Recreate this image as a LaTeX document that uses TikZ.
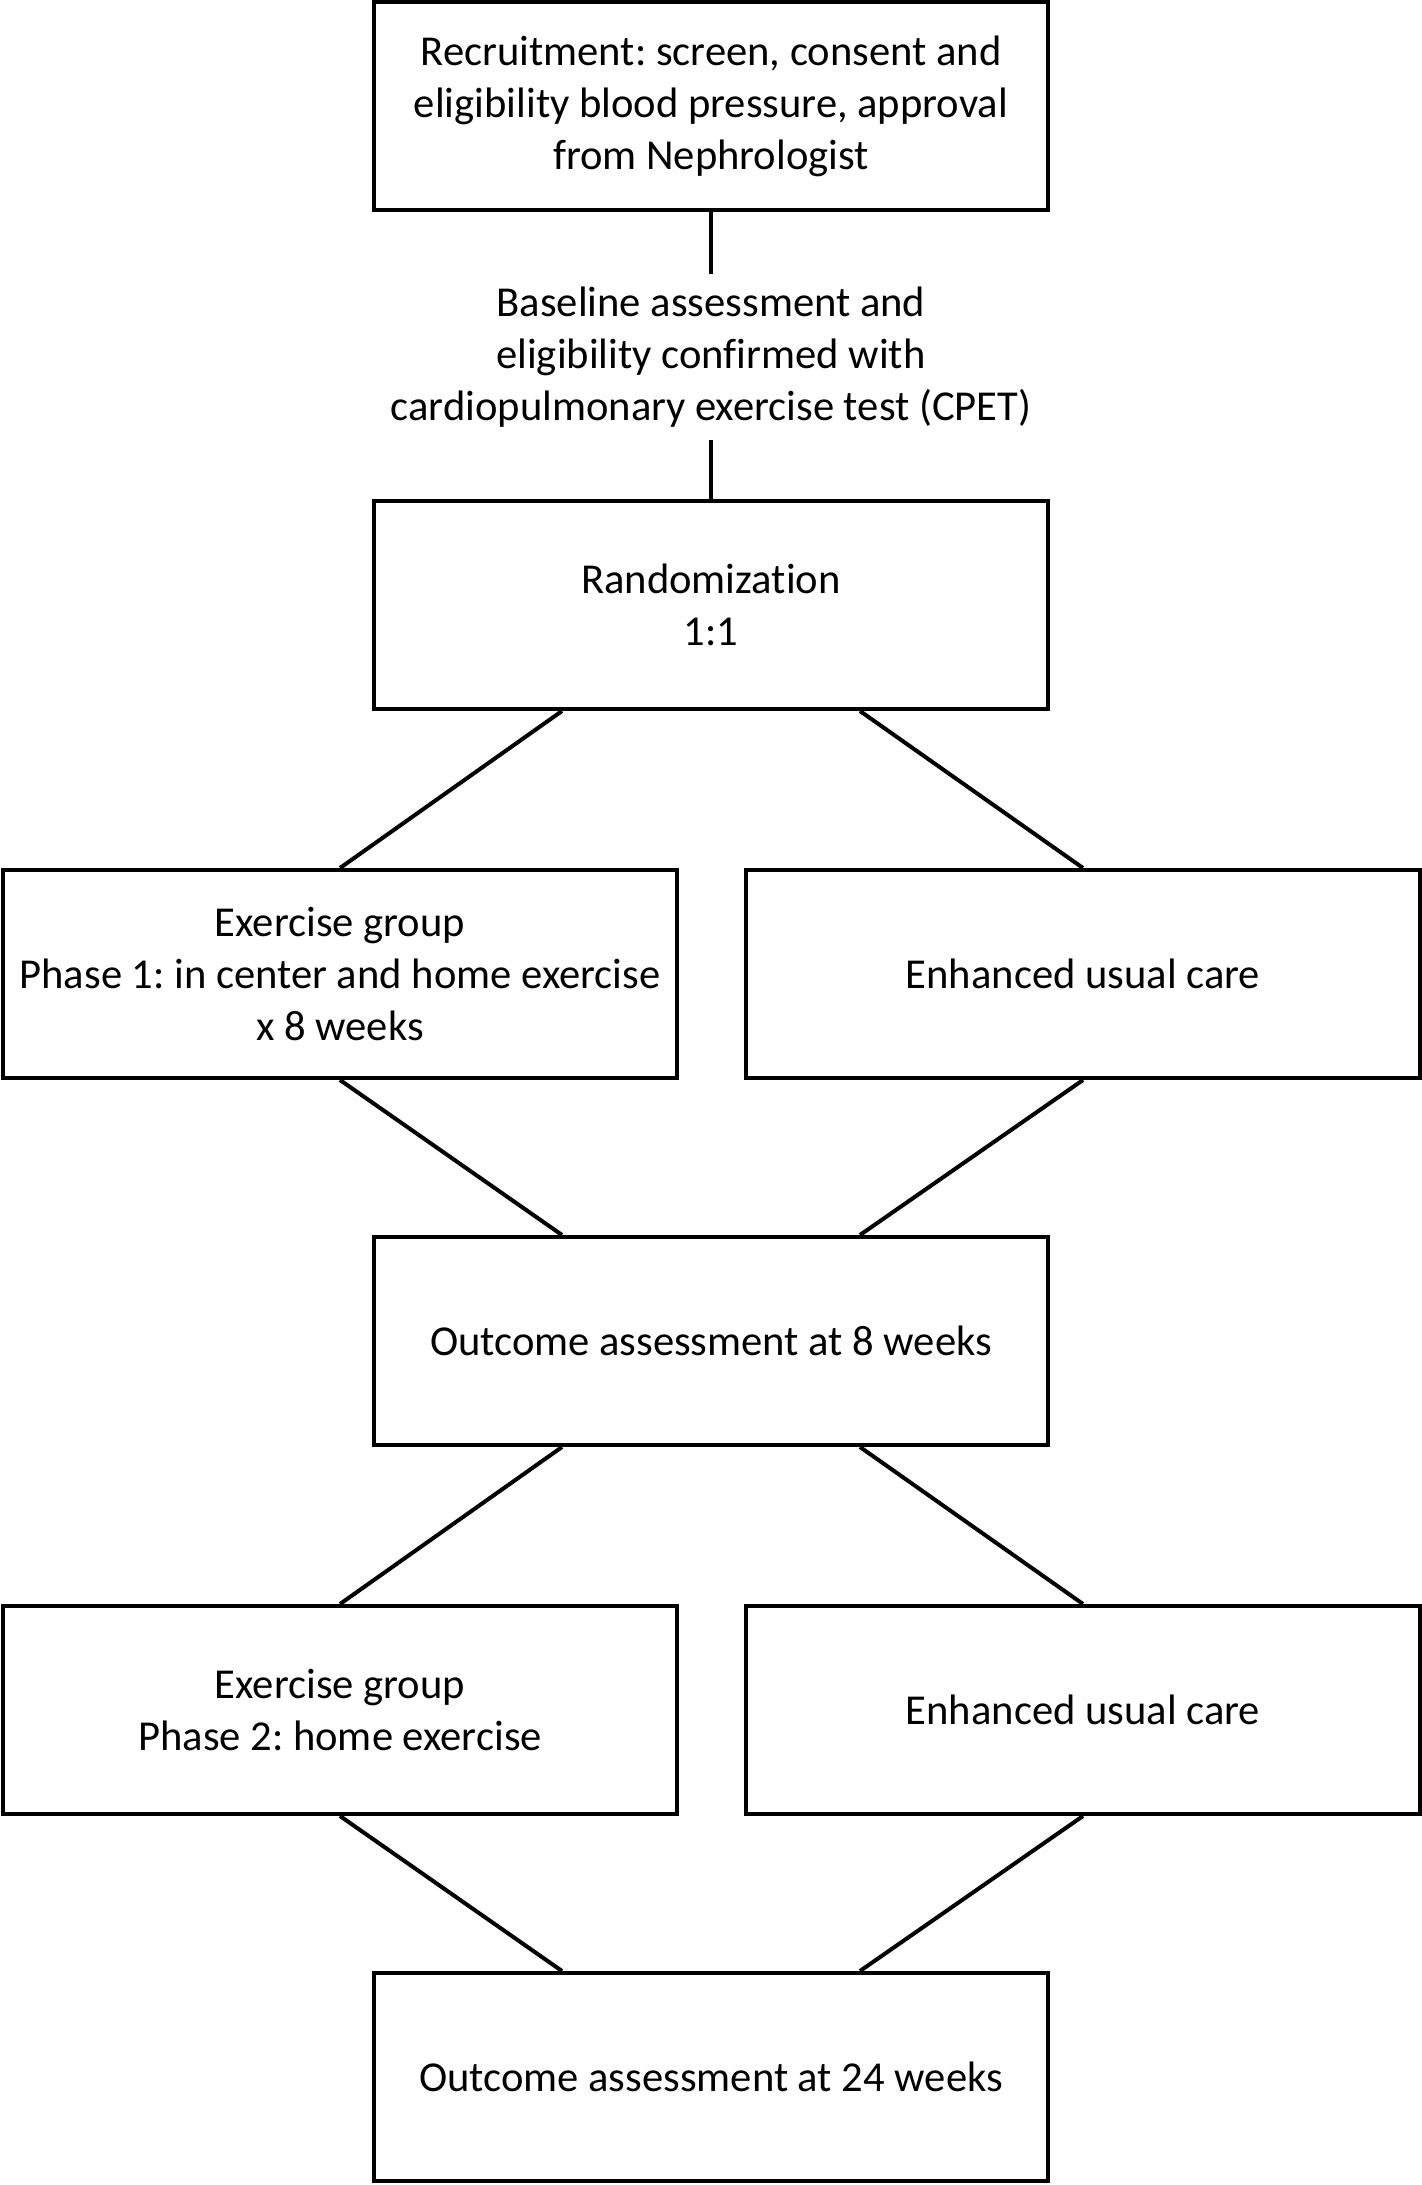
\documentclass[tikz,border=0pt]{standalone}
\usepackage{fontspec}
\setmainfont{Carlito}[Ligatures=NoCommon]
\usepackage{tikz}
\frenchspacing

\begin{document}
\begin{tikzpicture}[x=0.25pt,y=-0.25pt]
    \tikzstyle{every node}=[font=\fontsize{10.65}{13}\selectfont, align=center]
    \tikzstyle{stagebox}=[draw, line width=1pt, minimum width=168.5pt,
    minimum height=52pt, inner sep=2pt]
    \useasboundingbox (0,0) rectangle (1422,2185);

    \node[stagebox] (recruit) at (711,106) {Recruitment: screen, consent and\\
    eligibility blood pressure, approval\\ from Nephrologist};

    \node[inner sep=3pt] (baseline) at (711,357) {Baseline assessment and\\
    eligibility confirmed with\\ cardiopulmonary exercise test (CPET)};

    \node[stagebox] (random) at (711,605) {Randomization\\ 1:1};

    \node[stagebox] (exone) at (340,974) {Exercise group\\
    Phase 1: in center and home exercise\\ x 8 weeks};
    \node[stagebox] (careone) at (1083,974) {Enhanced usual care};

    \node[stagebox] (outeight) at (711,1341) {Outcome assessment at 8 weeks};

    \node[stagebox] (extwo) at (340,1710) {Exercise group\\ Phase 2: home exercise};
    \node[stagebox] (caretwo) at (1083,1710) {Enhanced usual care};

    \node[stagebox] (outfour) at (711,2077) {Outcome assessment at 24 weeks};

    % connectors
    \draw[line width=1pt] (recruit) -- (baseline);
    \draw[line width=1pt] (baseline) -- (random);

    \draw[line width=1pt] ([xshift=-37.25pt]random.south) -- (exone.north);
    \draw[line width=1pt] ([xshift=37.25pt]random.south) -- (careone.north);
    \draw[line width=1pt] (exone.south) -- ([xshift=-37.25pt]outeight.north);
    \draw[line width=1pt] (careone.south) -- ([xshift=37.25pt]outeight.north);

    \draw[line width=1pt] ([xshift=-37.25pt]outeight.south) -- (extwo.north);
    \draw[line width=1pt] ([xshift=37.25pt]outeight.south) -- (caretwo.north);
    \draw[line width=1pt] (extwo.south) -- ([xshift=-37.25pt]outfour.north);
    \draw[line width=1pt] (caretwo.south) -- ([xshift=37.25pt]outfour.north);

\end{tikzpicture}
\end{document}
